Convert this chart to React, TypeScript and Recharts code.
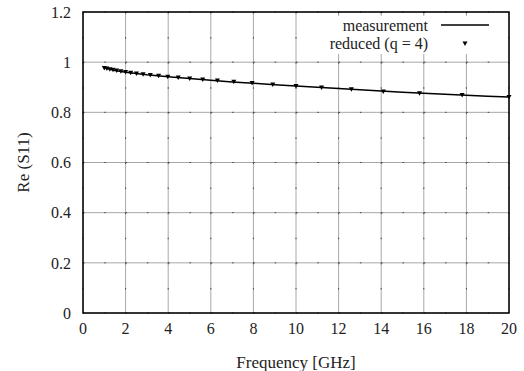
import React from "react";
import {
  ScatterChart,
  Scatter,
  XAxis,
  YAxis,
  CartesianGrid,
  ReferenceArea,
  Legend,
} from "recharts";

// measured curve (GHz, Re(S11))
const measFreq = [1, 1.5, 2, 3, 4, 5, 6, 7, 8, 9, 10, 11, 12, 13, 14, 15, 16, 17, 18, 19, 20];
const measRe = [
  0.978, 0.967, 0.96, 0.95, 0.942, 0.935, 0.928, 0.921, 0.916, 0.91, 0.905, 0.9, 0.895, 0.89,
  0.885, 0.88, 0.876, 0.872, 0.868, 0.864, 0.861,
];

// reduced model samples
const redFreq = [
  1.0, 1.12, 1.26, 1.41, 1.58, 1.78, 2.0, 2.24, 2.51, 2.82, 3.16, 3.55, 3.98, 4.47, 5.01, 5.62,
  6.31, 7.08, 7.94, 8.91, 10.0, 11.2, 12.6, 14.1, 15.8, 17.8, 20.0,
];
const redRe = [
  0.977, 0.975, 0.972, 0.97, 0.967, 0.964, 0.961, 0.958, 0.955, 0.952, 0.949, 0.946, 0.942, 0.939,
  0.935, 0.931, 0.927, 0.922, 0.917, 0.911, 0.905, 0.899, 0.892, 0.883, 0.876, 0.869, 0.861,
];

const xTicks = [0, 2, 4, 6, 8, 10, 12, 14, 16, 18, 20];
const yTicks = [0, 0.2, 0.4, 0.6, 0.8, 1, 1.2];

const measData = measFreq.map((f, i) => ({ f, re: measRe[i] }));
const redData = redFreq.map((f, i) => ({ f, re: redRe[i] }));

// no serif fonts in the sandbox, falls back to sans
const FONT = "'Liberation Serif', 'DejaVu Serif', 'Times New Roman', Times, serif";
const tickStyle = { fill: "#222", fontSize: 16, fontFamily: FONT };
const labelStyle = { fill: "#222", fontSize: 17, fontFamily: FONT };

const TriangleDown = (props: any) => {
  const { cx, cy } = props;
  if (cx == null || cy == null) return null;
  return (
    <polygon
      points={`${cx - 2.5},${cy - 2} ${cx + 2.5},${cy - 2} ${cx},${cy + 2.5}`}
      fill="#000"
    />
  );
};

const NoShape = () => <g />;

// opaque key box like gnuplot's
const LegendBox = () => (
  <div
    style={{
      fontFamily: FONT,
      fontSize: 16,
      color: "#222",
      lineHeight: "16px",
      background: "#fff",
      paddingTop: 1,
      height: 38,
      boxSizing: "border-box",
    }}
  >
    <div style={{ display: "flex", alignItems: "center", height: 18 }}>
      <span style={{ width: 112, textAlign: "right" }}>measurement</span>
      <svg width={64} height={18} style={{ marginLeft: 4 }}>
        <line x1={9} y1={8} x2={57} y2={8} stroke="#000" strokeWidth={1.3} />
      </svg>
    </div>
    <div style={{ display: "flex", alignItems: "center", height: 18 }}>
      <span style={{ width: 112, textAlign: "right" }}>reduced (q = 4)</span>
      <svg width={64} height={18} style={{ marginLeft: 4 }}>
        <TriangleDown cx={33} cy={8.5} />
      </svg>
    </div>
  </div>
);

export default function App() {
  return (
    <div style={{ position: "absolute", left: 0, top: 0, background: "#fff" }}>
      <ScatterChart
        width={524}
        height={371}
        margin={{ top: 12, right: 15, bottom: 0, left: 0 }}
      >
        <CartesianGrid stroke="#a8a8a8" strokeWidth={1} />
        <CartesianGrid
          horizontal={false}
          stroke="#444"
          strokeWidth={1}
          strokeDasharray="1.5 23.58"
        />
        <CartesianGrid
          vertical={false}
          stroke="#444"
          strokeWidth={1}
          strokeDasharray="1.5 19.8"
        />
        <XAxis
          dataKey="f"
          type="number"
          domain={[0, 20]}
          ticks={xTicks}
          height={58}
          tickLine={false}
          axisLine={false}
          tickSize={6}
          tickMargin={4}
          tick={tickStyle}
          label={{
            value: "Frequency [GHz]",
            position: "insideBottom",
            offset: 3,
            style: labelStyle,
          }}
        />
        <YAxis
          dataKey="re"
          type="number"
          domain={[0, 1.2]}
          ticks={yTicks}
          width={83}
          tickLine={false}
          axisLine={false}
          tickSize={6}
          tickMargin={6}
          tick={tickStyle}
          label={{
            value: "Re (S11)",
            angle: -90,
            position: "insideLeft",
            offset: 23,
            style: { ...labelStyle, textAnchor: "middle" },
          }}
        />
        <ReferenceArea
          x1={0}
          x2={20}
          y1={0}
          y2={1.2}
          fill="none"
          stroke="#000"
          strokeWidth={1.5}
          ifOverflow="visible"
        />
        <Legend
          layout="horizontal"
          align="center"
          verticalAlign="middle"
          content={<LegendBox />}
          wrapperStyle={{ position: "absolute", left: 316, top: 16, width: 190, height: 38 }}
        />
        <Scatter
          name="measurement"
          data={measData}
          line={{ stroke: "#000", strokeWidth: 1.5 }}
          lineType="joint"
          shape={<NoShape />}
          isAnimationActive={false}
        />
        <Scatter
          name="reduced (q = 4)"
          data={redData}
          shape={<TriangleDown />}
          isAnimationActive={false}
        />
      </ScatterChart>
    </div>
  );
}
